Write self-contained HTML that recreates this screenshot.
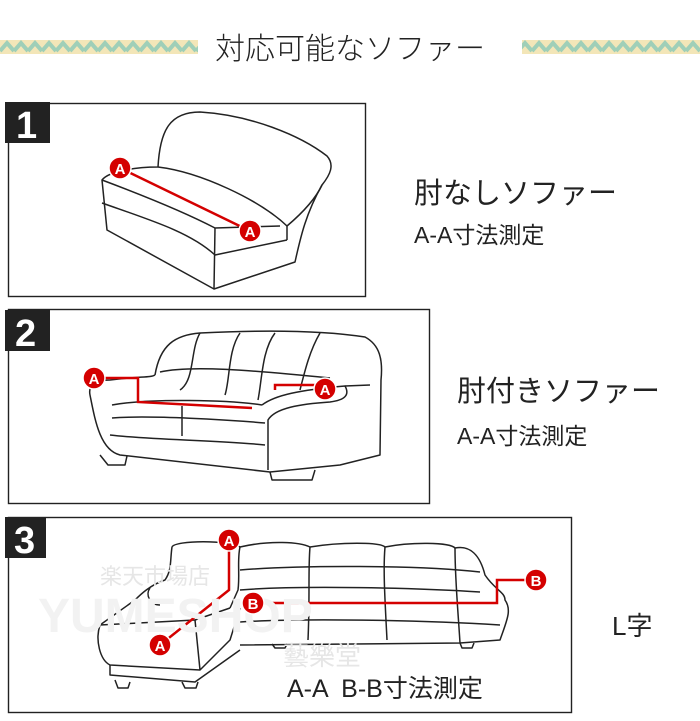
<!DOCTYPE html>
<html><head><meta charset="utf-8"><style>
html,body{margin:0;padding:0;background:#fff;}
body{width:700px;height:721px;overflow:hidden;position:relative;font-family:"Liberation Sans","Noto Sans CJK JP",sans-serif;}
svg{position:absolute;left:0;top:0;}
</style></head><body>
<svg width="700" height="721" viewBox="0 0 700 721" xmlns="http://www.w3.org/2000/svg">
<defs>
<pattern id="zz" x="0" y="40" width="14" height="14" patternUnits="userSpaceOnUse">
<rect width="14" height="14" fill="#f3e6b8"/>
<polyline points="0,11 7,3 14,11" fill="none" stroke="#9fcfb8" stroke-width="4"/>
</pattern>
</defs>
<rect x="0" y="40" width="198" height="14" fill="url(#zz)"/>
<rect x="522" y="40" width="178" height="14" fill="url(#zz)"/>
<text x="215" y="59" font-size="30" fill="#222" font-family="Noto Sans CJK JP, sans-serif" font-weight="300">対応可能なソファー</text>

<g fill="none" stroke="#222" stroke-width="1.4">
<rect x="8.5" y="103.5" width="357" height="193"/>
<rect x="8.5" y="309.5" width="421" height="194"/>
<rect x="8.5" y="517.5" width="563" height="195"/>
</g>
<g font-family="Liberation Sans, sans-serif" font-weight="bold" font-size="38" fill="#fff">
<rect x="5" y="102" width="45" height="41" fill="#222"/><text x="16" y="138">1</text>
<rect x="5" y="310" width="45" height="41" fill="#222"/><text x="15" y="346">2</text>
<rect x="5" y="517" width="41" height="41" fill="#222"/><text x="14" y="553">3</text>
</g>

<!-- sofa 1 -->
<g fill="none" stroke="#222" stroke-width="1.5" stroke-linejoin="round">
<path d="M158,167 C160,130 170,112 200,112 C250,115 300,135 327,156 C335,165 330,175 322,185 C305,215 300,240 295,262 L214,289 L107,230 L102,180 C110,170 140,167 158,167"/>
<path d="M158,167 C200,172 260,200 287,226"/>
<path d="M102,180 C150,198 190,215 215,228 L280,226"/>
<path d="M102,203 C150,220 190,232 215,255 L287,240"/>
<path d="M215,228 L214,289"/>
<path d="M322,185 C315,200 300,215 287,226 L287,240"/>
</g>
<g stroke="#d40000" stroke-width="2.5" fill="none"><line x1="120" y1="168" x2="250" y2="231"/></g>

<!-- sofa 2 -->
<g fill="none" stroke="#222" stroke-width="1.5" stroke-linejoin="round">
<path d="M155,375 C160,345 175,335 200,333 C260,330 320,330 365,337 C380,345 383,360 381,380 L380,455 L340,465 L270,472 L120,455 C100,450 95,420 90,395 C88,385 95,380 110,380 C140,376 150,378 155,375"/>
<path d="M200,333 C190,350 195,380 180,390"/>
<path d="M240,333 C228,350 230,380 225,395"/>
<path d="M275,333 C262,350 262,380 258,400"/>
<path d="M320,333 C310,350 305,370 300,390"/>
<path d="M160,372 C190,365 250,370 330,378"/>
<path d="M112,405 C150,398 230,400 262,405"/>
<path d="M112,418 C150,415 230,420 265,423"/>
<path d="M110,435 C150,440 220,440 265,445"/>
<path d="M182,406 L182,436"/>
<path d="M262,405 C275,395 300,390 345,386 C350,395 345,400 330,402 C300,404 275,408 268,420 L268,470"/>
<path d="M345,386 L370,385"/>
<path d="M100,455 L108,465 L125,465 L127,456"/>
<path d="M270,472 L272,480 L312,480 L315,470"/>
</g>
<g stroke="#d40000" stroke-width="2.5" fill="none">
<polyline points="94,378 138,378 138,402 252,408"/>
<polyline points="275,390 275,385 325,385"/>
</g>

<!-- sofa 3 -->
<g fill="none" stroke="#222" stroke-width="1.5" stroke-linejoin="round">
<path d="M172,547 C175,540 230,540 240,547 C270,540 300,542 310,547 C340,542 380,542 385,547 C410,542 450,542 455,548 C470,545 480,555 485,575 C495,590 505,592 505,600 C512,610 507,620 500,640 L460,643 L240,645"/>
<path d="M240,547 C237,560 240,575 238,590 L230,608"/>
<path d="M310,547 C308,570 310,595 308,640"/>
<path d="M385,547 C383,570 385,600 387,640"/>
<path d="M455,548 C455,580 458,610 460,643"/>
<path d="M172,547 C170,560 172,570 165,580 C150,585 140,595 135,600 L100,625 C95,640 100,660 110,665 L200,670 L230,640 L240,608"/>
<path d="M100,625 L195,620 L230,608"/>
<path d="M195,620 L200,670"/>
<path d="M110,665 L110,675 L195,682 L240,650"/>
<path d="M240,570 C300,565 420,565 480,572"/>
<path d="M240,590 C300,585 420,588 480,592"/>
<path d="M240,622 C300,618 420,620 500,625"/>
<path d="M150,588 C145,595 150,605 160,605"/>
<path d="M115,680 L118,688 L128,688 L130,682"/>
<path d="M182,682 L185,688 L196,688 L198,682"/>
<path d="M272,644 L275,648 L285,648 L287,644"/>
<path d="M460,643 L462,648 L472,648 L474,643"/>
</g>
<g stroke="#d40000" stroke-width="2.5" fill="none">
<polyline points="229,540 229,590 160,645"/>
<polyline points="253,603 497,603 497,580 536,580"/>
</g>
<text x="100" y="584" font-size="22" fill="#e6e6e6">楽天市場店</text>
<text x="38" y="632" font-size="48" fill="#f2f2f2" font-weight="bold">YUMESHOP</text>
<text x="283" y="665" font-size="26" fill="#e6e6e6">藝樂堂</text>

<g fill="#d40000" stroke="#fff" stroke-width="1.5">
<circle cx="120" cy="168" r="11"/><circle cx="250" cy="231" r="11"/>
<circle cx="94" cy="378" r="11"/><circle cx="325" cy="389" r="11"/>
<circle cx="229" cy="540" r="11"/><circle cx="160" cy="645" r="11"/>
<circle cx="253" cy="603" r="11"/><circle cx="536" cy="580" r="11"/>
</g>
<g fill="#fff" font-size="15" font-weight="bold" text-anchor="middle">
<text x="120" y="174">A</text><text x="250" y="237">A</text>
<text x="94" y="384">A</text><text x="325" y="395">A</text>
<text x="229" y="546">A</text><text x="160" y="651">A</text>
<text x="253" y="609">B</text><text x="536" y="586">B</text>
</g>

<g fill="#222">
<text x="414" y="203" font-size="29">肘なしソファー</text>
<text x="414" y="243" font-size="23">A-A寸法測定</text>
<text x="457" y="401" font-size="29">肘付きソファー</text>
<text x="457" y="444" font-size="23">A-A寸法測定</text>
<text x="612" y="635" font-size="26">L字</text>
<text x="287" y="697" font-size="25" xml:space="preserve">A-A  B-B寸法測定</text>
</g>
</svg>
</body></html>
